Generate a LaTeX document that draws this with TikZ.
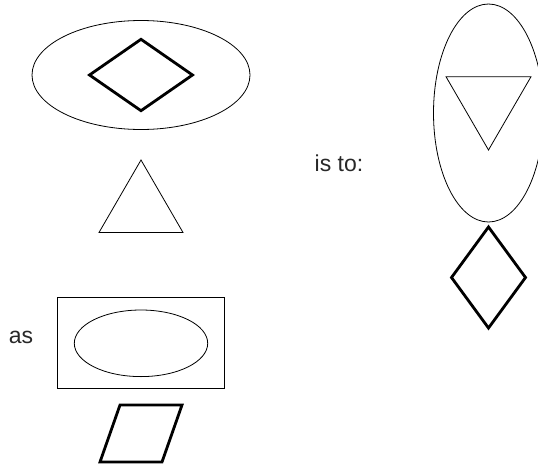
\documentclass[tikz,border=0pt]{standalone}
\usepackage{fontspec}
\setmainfont{Liberation Sans}
\usepackage{xcolor}
\usepackage{tikz}
\usetikzlibrary{calc,positioning}
\definecolor{inkg}{RGB}{40,40,40}

\begin{document}
\begin{tikzpicture}[
  x=1pt, y=-1pt,
  every node/.style={font=\fontsize{23}{26}\selectfont, text=inkg},
  thin line/.style={draw=black, line width=0.8pt},
  bold line/.style={draw=black, line width=2.8pt, line join=miter},
]
\useasboundingbox (0,0) rectangle (538,466);

% first pair, left column
\draw[thin line] (141,75) ellipse [x radius=109, y radius=54.5];
\draw[bold line] (89.5,75) -- (141,39.3) -- (192.5,75) -- (141,110.7) -- cycle;
\draw[thin line] (141,160) -- (183,232.5) -- (99,232.5) -- cycle;

% answer, right column
\draw[thin line] (488.5,113) ellipse [x radius=55, y radius=109];
\draw[thin line] (446,76.7) -- (531,76.7) -- (488.5,150) -- cycle;
\draw[bold line] (488.5,227) -- (525.5,277.5) -- (488.5,328) -- (451.5,277.5) -- cycle;

% second pair
\draw[thin line] (57,297) rectangle (224,388);
\draw[thin line] (141,343.3) ellipse [x radius=66.7, y radius=33.3];
\draw[bold line] (120,405) -- (182,405) -- (162,462) -- (100,462) -- cycle;

\node (as) at (21,337) {as};
\node (isto) at (339,163) {is to:};
\end{tikzpicture}
\end{document}
